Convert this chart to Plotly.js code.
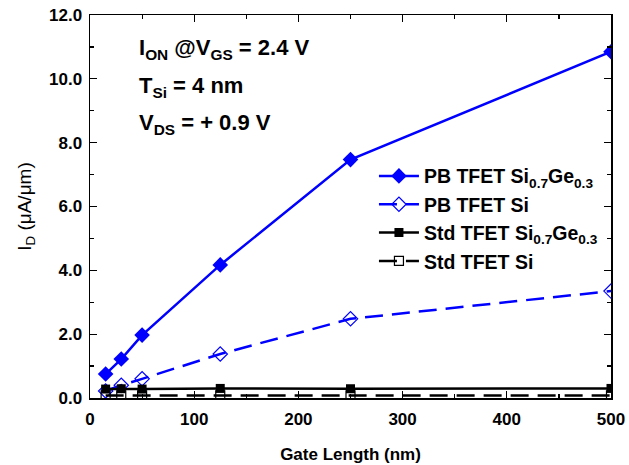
<!DOCTYPE html>
<html>
<head>
<meta charset="utf-8">
<script src="https://cdn.plot.ly/plotly-3.0.1.min.js"></script>
<style>html,body{margin:0;padding:0;background:#fff;}</style>
</head>
<body>
<div id="chart" style="width:629px;height:465px;"></div>
<script>
const gateLength = [15, 30, 50, 125, 250, 500];
const pbSiGe = [0.75, 1.22, 1.97, 4.17, 7.47, 10.85];
const pbSi = [0.22, 0.40, 0.60, 1.38, 2.48, 3.35];
const stdSiGe = [0.28, 0.29, 0.28, 0.30, 0.29, 0.30];
const stdSi = [0.08, 0.08, 0.08, 0.08, 0.08, 0.08];
const seriesNames = [
  'PB TFET Si<sub>0.7</sub>Ge<sub>0.3</sub>',
  'PB TFET Si',
  'Std TFET Si<sub>0.7</sub>Ge<sub>0.3</sub>',
  'Std TFET Si'
];
const xTicks = [0, 100, 200, 300, 400, 500];
const yTicks = [0, 2, 4, 6, 8, 10, 12];

const blue = '#0000ff';
const traces = [
  {x: gateLength, y: pbSiGe, name: seriesNames[0], mode: 'lines+markers',
   line: {color: blue, width: 2.5}, marker: {symbol: 'diamond', size: 12, color: blue}},
  {x: gateLength, y: pbSi, name: seriesNames[1], mode: 'lines+markers',
   line: {color: blue, width: 2.5, dash: '18px,9px'}, marker: {symbol: 'diamond-open', size: 11, color: blue, line: {width: 1.2}}},
  {x: gateLength, y: stdSiGe, name: seriesNames[2], mode: 'lines+markers',
   line: {color: 'black', width: 2.5}, marker: {symbol: 'square', size: 9, color: 'black'}},
  {x: gateLength, y: stdSi, name: seriesNames[3], mode: 'lines+markers',
   line: {color: 'black', width: 2.5, dash: '18px,9px'}, marker: {symbol: 'square-open', size: 9, color: 'black', line: {width: 1.2}}}
];

const axisCommon = {
  showline: true, linecolor: 'black', linewidth: 1.5, mirror: 'ticks',
  ticks: 'inside', ticklen: 7, tickwidth: 1.2, tickcolor: 'black',
  showgrid: false, zeroline: false,
  tickfont: {family: 'Liberation Sans, Arial, sans-serif', size: 17, color: 'black', weight: 'bold'}
};

const layout = {
  width: 629, height: 465,
  margin: {l: 90, r: 18, t: 15, b: 67},
  paper_bgcolor: 'white', plot_bgcolor: 'white',
  font: {family: 'Liberation Sans, Arial, sans-serif', color: 'black'},
  showlegend: true,
  legend: {x: 0.545, y: 0.63, xanchor: 'left', yanchor: 'top', bgcolor: 'rgba(0,0,0,0)',
    font: {size: 19.5, weight: 'bold', color: 'black'}, tracegroupgap: 0, itemwidth: 40},
  xaxis: Object.assign({}, axisCommon, {
    range: [0, 500], tickvals: xTicks, ticktext: xTicks.map(String), ticklabelstandoff: 5,
    minor: {dtick: 50, ticklen: 4, tickwidth: 1.2, tickcolor: 'black', ticks: 'inside'},
    title: {text: 'Gate Length (nm)', font: {size: 17, weight: 'bold', color: 'black'}, standoff: 20}
  }),
  yaxis: Object.assign({}, axisCommon, {
    range: [0, 12], tickvals: yTicks, ticktext: yTicks.map(v => v.toFixed(1)), ticklabelstandoff: 3,
    minor: {dtick: 1, ticklen: 4, tickwidth: 1.2, tickcolor: 'black', ticks: 'inside'},
    title: {text: 'I<sub>D</sub> (μA/μm)', font: {size: 19, color: 'black'}, standoff: 12}
  }),
  annotations: [
    {xref: 'paper', yref: 'paper', x: 0.09, y: 0.91, xanchor: 'left', yanchor: 'middle', showarrow: false,
     text: '<b>I<sub>ON</sub> @V<sub>GS</sub> = 2.4 V</b>', font: {size: 22, color: 'black'}},
    {xref: 'paper', yref: 'paper', x: 0.09, y: 0.813, xanchor: 'left', yanchor: 'middle', showarrow: false,
     text: '<b>T<sub>Si</sub> = 4 nm</b>', font: {size: 22, color: 'black'}},
    {xref: 'paper', yref: 'paper', x: 0.09, y: 0.715, xanchor: 'left', yanchor: 'middle', showarrow: false,
     text: '<b>V<sub>DS</sub> = + 0.9 V</b>', font: {size: 22, color: 'black'}}
  ]
};

Plotly.newPlot('chart', traces, layout, {displayModeBar: false, staticPlot: true});
</script>
</body>
</html>
